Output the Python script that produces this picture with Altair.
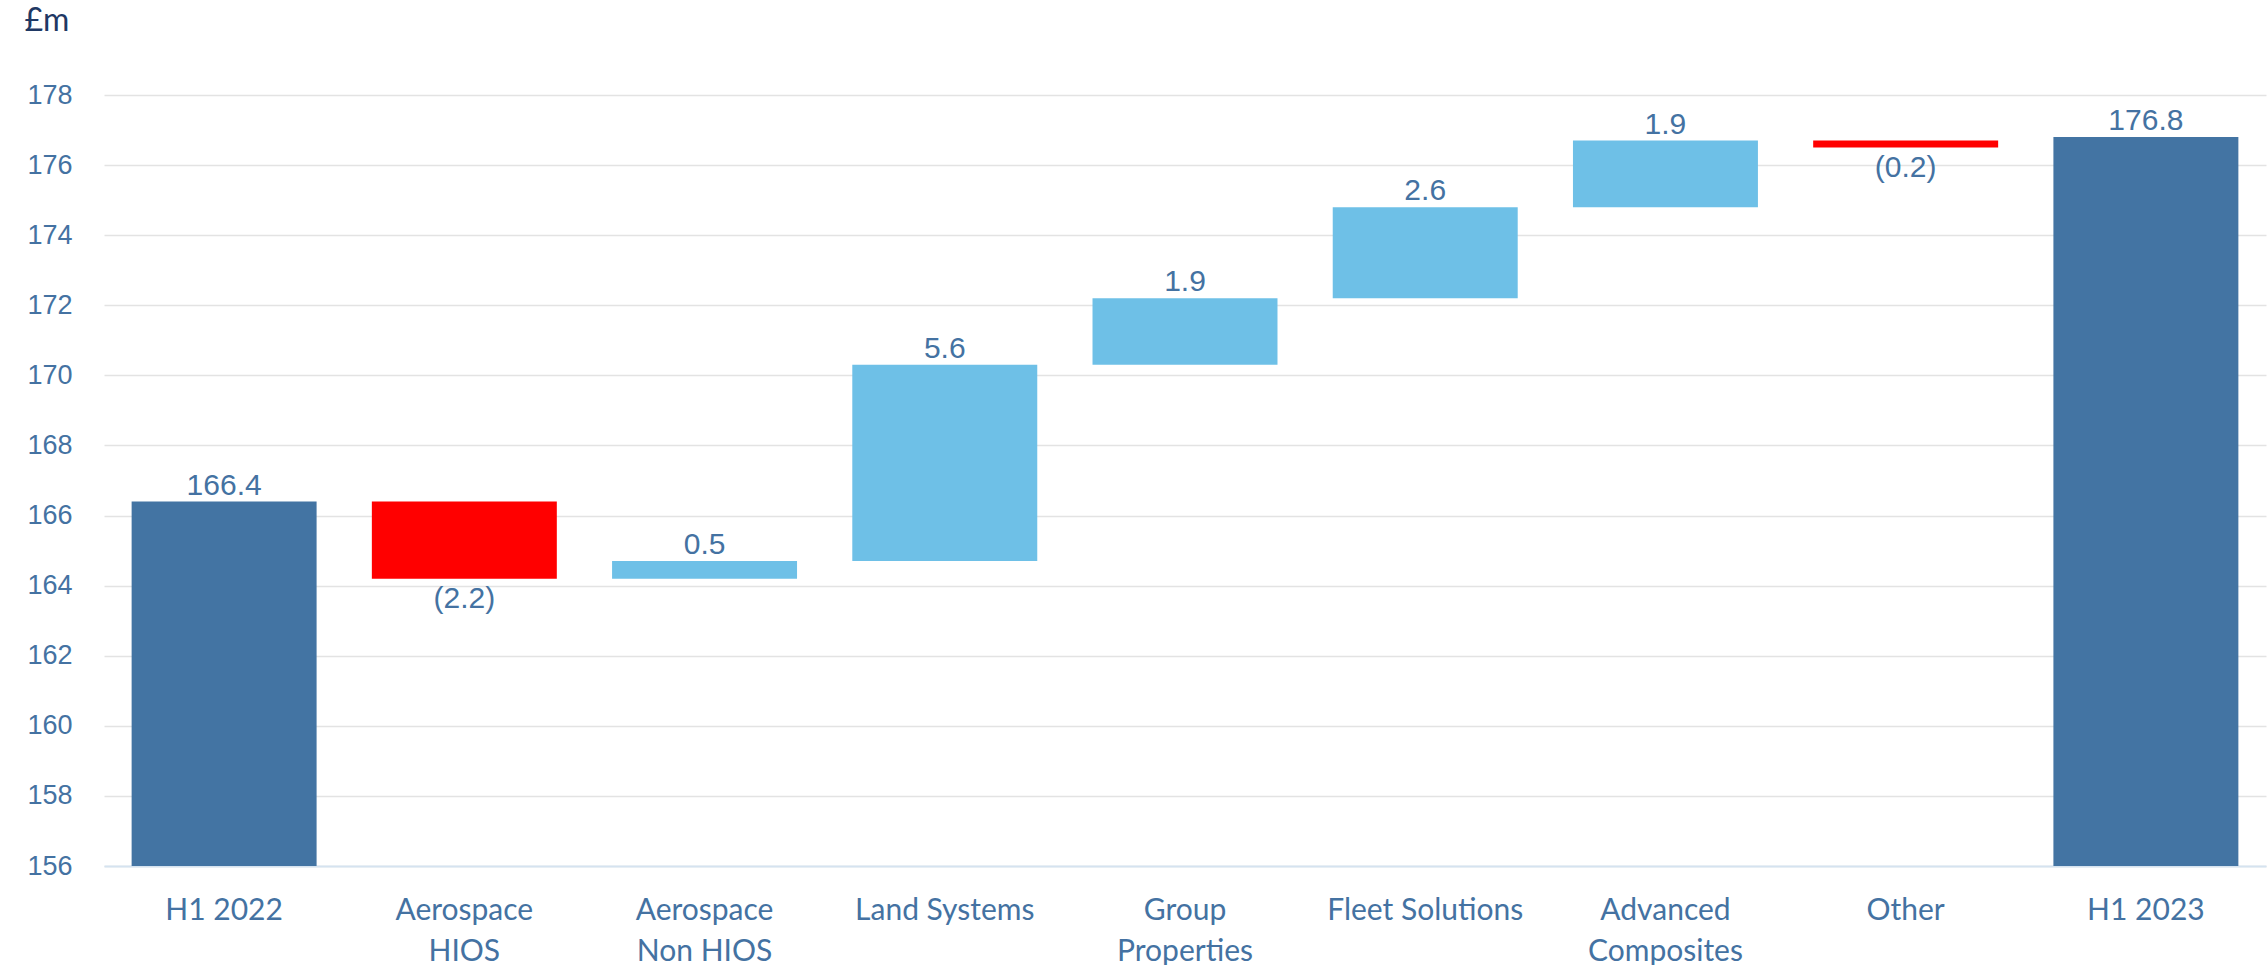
import altair as alt
import pandas as pd

categories = ["H1 2022", "Aerospace|HIOS", "Aerospace|Non HIOS", "Land Systems", "Group|Properties",
              "Fleet Solutions", "Advanced|Composites", "Other", "H1 2023"]
kinds = ["total", "delta", "delta", "delta", "delta", "delta", "delta", "delta", "total"]
values = [166.4, -2.2, 0.5, 5.6, 1.9, 2.6, 1.9, -0.2, 176.8]
labels = ["166.4", "(2.2)", "0.5", "5.6", "1.9", "2.6", "1.9", "(0.2)", "176.8"]

rows = []
running = 0.0
for cat, kind, val, lab in zip(categories, kinds, values, labels):
    if kind == "total":
        start, end = 156.0, val
        running = val
        color = "total"
    else:
        start, end = running, running + val
        running = end
        color = "up" if val >= 0 else "down"
    top = max(start, end)
    bottom = min(start, end)
    rows.append({"cat": cat, "start": start, "end": end, "kind": color, "label": lab,
                 "top": top, "bottom": bottom, "neg": (kind == "delta" and val < 0)})
df = pd.DataFrame(rows)

text_color = "#4472A2"
x_enc = alt.X("cat:N", sort=categories, title=None,
              scale=alt.Scale(paddingInner=0.23, paddingOuter=0.115),
              axis=alt.Axis(labelExpr="split(datum.value, '|')", labelAngle=0,
                            labelFont="Lato", labelFontSize=30, labelLineHeight=41,
                            labelColor=text_color, labelPadding=44, ticks=False,
                            labelLimit=0,
                            domainColor="#D5E3F0", domainWidth=2, grid=False,
                            labelBaseline="middle"))
y_scale = alt.Scale(domain=[156, 178], nice=False, zero=False)

bars = alt.Chart(df).mark_bar().encode(
    x=x_enc,
    y=alt.Y("start:Q", scale=y_scale, title="£m",
            axis=alt.Axis(values=list(range(156, 179, 2)), labelFont="Liberation Sans",
                          labelFontSize=27, labelColor=text_color, labelPadding=32,
                          ticks=False, domain=False, gridColor="#E3E3E3", gridWidth=1.5,
                          titleAngle=0, titleAlign="left", titleBaseline="middle",
                          titleX=-80, titleY=-75, titleFont="Lato",
                          titleFontSize=32, titleFontWeight="normal", titleColor="#1F3864")),
    y2="end:Q",
    color=alt.Color("kind:N", scale=alt.Scale(domain=["total", "up", "down"],
                                              range=["#4374A3", "#6EC0E7", "#FF0000"]),
                    legend=None),
)

text_above = alt.Chart(df).transform_filter("!datum.neg").mark_text(
    font="Liberation Sans", fontSize=30, color=text_color, baseline="alphabetic", dy=-7
).encode(x=alt.X("cat:N", sort=categories), y=alt.Y("top:Q", scale=y_scale), text="label:N")

text_below = alt.Chart(df).transform_filter("datum.neg").mark_text(
    font="Liberation Sans", fontSize=30, color=text_color, baseline="top", dy=5
).encode(x=alt.X("cat:N", sort=categories), y=alt.Y("bottom:Q", scale=y_scale), text="label:N")

chart = alt.layer(bars, text_above, text_below).properties(
    width=2162, height=771,
    autosize=alt.AutoSizeParams(type="none"),
    padding={"left": 104, "top": 95, "right": 1, "bottom": 99},
).configure_view(stroke=None)

chart.save("out.html", embed_options={"renderer": "svg", "actions": False})
